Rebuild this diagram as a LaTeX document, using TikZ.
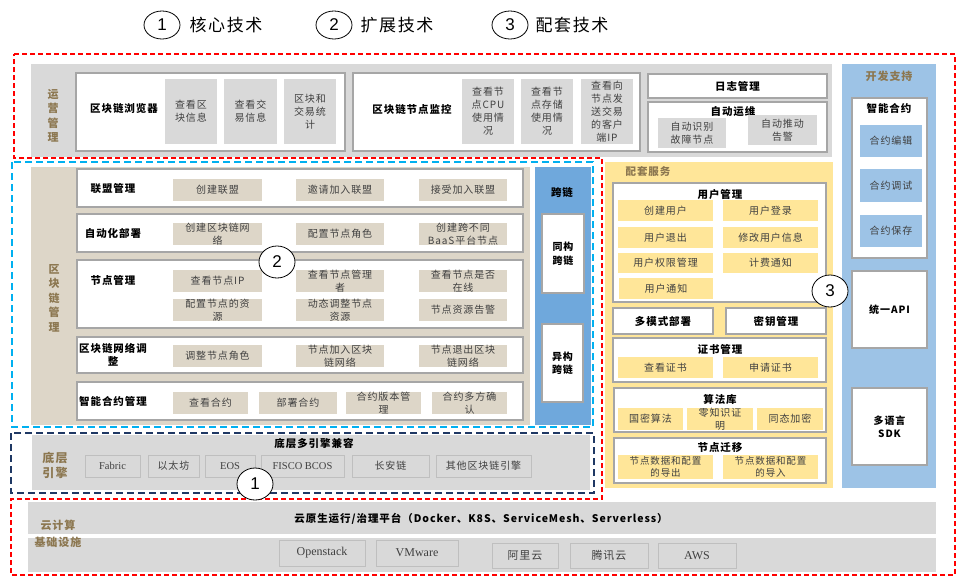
\documentclass[tikz,border=0pt]{standalone}
\usepackage{fontspec}
\setmainfont{Noto Sans CJK SC}[LetterSpace=9]
\newfontfamily\latf{Liberation Serif}
\newfontfamily\numf{Liberation Sans}
\usetikzlibrary{shapes.geometric}
\definecolor{gfill}{HTML}{D9D9D9}
\definecolor{bfill}{HTML}{DDD6C8}
\definecolor{yfill}{HTML}{FFE699}
\definecolor{lblue}{HTML}{9DC3E6}
\definecolor{mblue}{HTML}{6FA8DC}
\definecolor{bord}{HTML}{A6A6A6}
\definecolor{ebord}{HTML}{BFBFBF}
\definecolor{brownc}{HTML}{8C7750}
\definecolor{txtc}{HTML}{404040}
\definecolor{redd}{HTML}{FF0000}
\definecolor{cyand}{HTML}{00B0F0}
\definecolor{navyd}{HTML}{1F3864}
\newcommand\bx[7]{\node[#6, minimum width={(#4-#2)*1pt}, minimum height={(#5-#3)*1pt}] (#1) at ({(#2+#4)/2},{(#3+#5)/2}) {#7};}
\tikzset{
  base/.style={inner sep=0pt, outer sep=0pt, align=center},
  panel/.style={base, draw=none},
  wbox/.style={base, draw=bord, fill=white, line width=1.2pt},
  gsub/.style={base, fill=gfill, text=txtc, font=\fontsize{10}{13}\selectfont},
  bsub/.style={base, fill=bfill, text=txtc, font=\fontsize{10}{12.5}\selectfont},
  ysub/.style={base, fill=yfill, text=txtc, font=\fontsize{10}{12.5}\selectfont},
  lsub/.style={base, fill=lblue, text=txtc, font=\fontsize{10}{13}\selectfont},
  ebox/.style={base, draw=ebord, fill=gfill, line width=1pt, text=txtc},
  ttl/.style={inner sep=0pt, align=center, font=\bfseries\fontsize{10.5}{13}\selectfont},
  side/.style={inner sep=0pt, align=center, text=brownc, font=\bfseries\fontsize{11}{14.5}\selectfont},
  numc/.style={ellipse, draw=black, fill=white, line width=0.8pt, minimum width=36pt, minimum height=32pt, inner sep=0pt, font=\numf\fontsize{17}{17}\selectfont},
  leg/.style={inner sep=0pt, font=\fontsize{17}{18}\selectfont},
  dsh/.style={dash pattern=on 6pt off 4pt, line width=1.6pt}
}
\begin{document}
\begin{tikzpicture}[x=1pt,y=-1pt]
\useasboundingbox (0,0) rectangle (965,587);
% legend
\node[numc, minimum height=28pt] (c1) at (162,25) {1};
\node[leg] (l1) at (226,25) {核心技术};
\node[numc, minimum height=28pt] (c2) at (334,25) {2};
\node[leg] (l2) at (397,25) {扩展技术};
\node[numc, minimum height=28pt] (c3) at (510,25) {3};
\node[leg] (l3) at (572,25) {配套技术};

% ===== operations =====
\bx{ops}{31}{64}{832}{157}{panel, fill=gfill}{}
\node[side] (opsl) at (53,116) {运\\营\\管\\理};
\bx{brw}{76}{73}{345}{151}{wbox}{}
\node[ttl] (brwt) at (124,109) {区块链浏览器};
\bx{b1}{165}{79}{217}{144}{gsub}{查看区\\块信息}
\bx{b2}{224}{79}{277}{144}{gsub}{查看交\\易信息}
\bx{b3}{284}{79}{336}{144}{gsub}{区块和\\交易统\\计}
\bx{mon}{353}{73}{640}{151}{wbox}{}
\node[ttl] (mont) at (412,109) {区块链节点监控};
\bx{m1}{462}{79}{514}{144}{gsub}{查看节\\点CPU\\使用情\\况}
\bx{m2}{521}{79}{573}{144}{gsub}{查看节\\点存储\\使用情\\况}
\bx{m3}{581}{79}{633}{144}{gsub}{查看向\\节点发\\送交易\\的客户\\端IP}
\bx{logm}{648}{74}{827}{98}{wbox, font=\bfseries\fontsize{10.5}{13}\selectfont}{日志管理}
\bx{aut}{648}{102}{827}{152}{wbox}{}
\node[ttl] (autt) at (733,112) {自动运维};
\bx{a1}{658}{118}{726}{148}{gsub}{自动识别\\故障节点}
\bx{a2}{748}{115}{817}{145}{gsub}{自动推动\\告警}

% ===== dev support =====
\bx{dev}{842}{64}{936}{488}{panel, fill=lblue}{}
\node[side] (devt) at (889,76) {开发支持};
\bx{sc}{852}{98}{927}{258}{wbox}{}
\node[ttl] (sct) at (889,108) {智能合约};
\bx{sc1}{860}{125}{922}{157}{lsub}{合约编辑}
\bx{sc2}{860}{169}{922}{202}{lsub}{合约调试}
\bx{sc3}{860}{215}{922}{247}{lsub}{合约保存}
\bx{api}{852}{271}{927}{348}{wbox, font=\bfseries\fontsize{10}{13}\selectfont}{统一API}
\bx{sdk}{852}{388}{927}{465}{wbox, font=\bfseries\fontsize{10}{13}\selectfont}{多语言\\SDK}

% ===== blockchain management =====
\bx{bcm}{31}{167}{530}{425}{panel, fill=bfill}{}
\node[side] (bcml) at (54,298) {区\\块\\链\\管\\理};
\bx{r1}{77}{169}{523}{207}{wbox}{}
\node[ttl] (r1t) at (113,189) {联盟管理};
\bx{r1a}{173}{179}{262}{201}{bsub}{创建联盟}
\bx{r1b}{296}{179}{384}{201}{bsub}{邀请加入联盟}
\bx{r1c}{419}{179}{507}{201}{bsub}{接受加入联盟}
\bx{r2}{77}{214}{523}{252}{wbox}{}
\node[ttl] (r2t) at (113,233) {自动化部署};
\bx{r2a}{173}{223}{262}{245}{bsub}{创建区块链网\\络}
\bx{r2b}{296}{223}{384}{245}{bsub}{配置节点角色}
\bx{r2c}{419}{223}{507}{245}{bsub}{创建跨不同\\BaaS平台节点}
\bx{r3}{77}{260}{523}{328}{wbox}{}
\node[ttl] (r3t) at (113,280) {节点管理};
\bx{r3a}{173}{270}{262}{292}{bsub}{查看节点IP}
\bx{r3b}{296}{270}{384}{292}{bsub}{查看节点管理\\者}
\bx{r3c}{419}{270}{507}{292}{bsub}{查看节点是否\\在线}
\bx{r3d}{173}{299}{262}{321}{bsub}{配置节点的资\\源}
\bx{r3e}{296}{299}{384}{321}{bsub}{动态调整节点\\资源}
\bx{r3f}{419}{299}{507}{321}{bsub}{节点资源告警}
\bx{r4}{77}{337}{523}{373}{wbox}{}
\node[ttl] (r4t) at (113,355) {区块链网络调\\整};
\bx{r4a}{173}{345}{262}{367}{bsub}{调整节点角色}
\bx{r4b}{296}{345}{384}{367}{bsub}{节点加入区块\\链网络}
\bx{r4c}{419}{345}{507}{367}{bsub}{节点退出区块\\链网络}
\bx{r5}{77}{382}{523}{420}{wbox}{}
\node[ttl] (r5t) at (113,401) {智能合约管理};
\bx{r5a}{173}{392}{248}{414}{bsub}{查看合约}
\bx{r5b}{259}{392}{337}{414}{bsub}{部署合约}
\bx{r5c}{346}{392}{421}{414}{bsub}{合约版本管\\理}
\bx{r5d}{432}{392}{507}{414}{bsub}{合约多方确\\认}
% cross chain
\bx{kl}{535}{167}{591}{425}{panel, fill=mblue}{}
\node[ttl] (klt) at (562,193) {跨链};
\bx{kl1}{542}{214}{584}{293}{wbox, font=\bfseries\fontsize{10}{13.5}\selectfont}{同构\\跨链}
\bx{kl2}{542}{324}{583}{402}{wbox, font=\bfseries\fontsize{10}{13.5}\selectfont}{异构\\跨链}

% ===== supporting services =====
\bx{pt}{605}{162}{833}{488}{panel, fill=yfill}{}
\node[side, font=\bfseries\fontsize{10.5}{13}\selectfont] (ptt) at (648,172) {配套服务};
\bx{um}{613}{183}{826}{302}{wbox}{}
\node[ttl] (umt) at (720,194) {用户管理};
\bx{u1}{618}{200}{713}{221}{ysub}{创建用户}
\bx{u2}{723}{200}{818}{221}{ysub}{用户登录}
\bx{u3}{618}{227}{713}{248}{ysub}{用户退出}
\bx{u4}{723}{227}{818}{248}{ysub}{修改用户信息}
\bx{u5}{618}{253}{713}{273}{ysub}{用户权限管理}
\bx{u6}{723}{253}{818}{273}{ysub}{计费通知}
\bx{u7}{619}{278}{713}{299}{ysub}{用户通知}
\bx{dm}{613}{308}{713}{334}{wbox, font=\bfseries\fontsize{10.5}{13}\selectfont}{多模式部署}
\bx{km}{726}{308}{826}{334}{wbox, font=\bfseries\fontsize{10.5}{13}\selectfont}{密钥管理}
\bx{cm}{613}{338}{826}{382}{wbox}{}
\node[ttl] (cmt) at (720,349) {证书管理};
\bx{cm1}{618}{357}{713}{378}{ysub}{查看证书}
\bx{cm2}{723}{357}{818}{378}{ysub}{申请证书}
\bx{al}{614}{388}{826}{432}{wbox}{}
\node[ttl] (alt) at (720,399) {算法库};
\bx{al1}{618}{408}{683}{430}{ysub}{国密算法}
\bx{al2}{687}{408}{753}{430}{ysub}{零知识证\\明}
\bx{al3}{757}{408}{823}{430}{ysub}{同态加密}
\bx{nm}{614}{438}{826}{483}{wbox}{}
\node[ttl] (nmt) at (720,448) {节点迁移};
\bx{nm1}{618}{455}{713}{479}{ysub, font=\fontsize{9.5}{12}\selectfont}{节点数据和配置\\的导出}
\bx{nm2}{723}{455}{818}{479}{ysub, font=\fontsize{9.5}{12}\selectfont}{节点数据和配置\\的导入}

% ===== base engines =====
\bx{eng}{32}{435}{590}{490}{panel, fill=gfill}{}
\node[side, font=\bfseries\fontsize{12}{15}\selectfont] (engl) at (55,465) {底层\\引擎};
\node[ttl] (engt) at (314,443) {底层多引擎兼容};
\bx{e1}{85}{455}{140}{477}{ebox, font=\latf\fontsize{10.5}{12}\selectfont}{Fabric}
\bx{e2}{148}{455}{199}{477}{ebox, font=\fontsize{10}{12}\selectfont}{以太坊}
\bx{e3}{205}{455}{255}{477}{ebox, font=\latf\fontsize{10.5}{12}\selectfont}{EOS}
\bx{e4}{261}{455}{344}{477}{ebox, font=\latf\fontsize{10.5}{12}\selectfont}{FISCO BCOS}
\bx{e5}{352}{455}{429}{477}{ebox, font=\fontsize{10}{12}\selectfont}{长安链}
\bx{e6}{436}{455}{531}{477}{ebox, font=\fontsize{10}{12}\selectfont}{其他区块链引擎}

% ===== cloud =====
\bx{cl1}{28}{502}{936}{534}{panel, fill=gfill}{}
\node[ttl, font=\bfseries\fontsize{10.5}{13}\selectfont] (clt) at (481,519) {云原生运行/治理平台（Docker、K8S、ServiceMesh、Serverless）};
\bx{cl2}{28}{538}{936}{572}{panel, fill=gfill}{}
\node[side, font=\bfseries\fontsize{11}{13}\selectfont] (cll1) at (58,525) {云计算};
\node[side, font=\bfseries\fontsize{11}{13}\selectfont] (cll2) at (58,542) {基础设施};
\bx{o1}{279}{540}{365}{566}{ebox, font=\latf\fontsize{12}{13}\selectfont}{Openstack}
\bx{o2}{376}{540}{458}{566}{ebox, font=\latf\fontsize{12}{13}\selectfont}{VMware}
\bx{o3}{492}{543}{558}{568}{ebox, font=\fontsize{11}{13}\selectfont}{阿里云}
\bx{o4}{570}{543}{648}{568}{ebox, font=\fontsize{11}{13}\selectfont}{腾讯云}
\bx{o5}{658}{543}{736}{568}{ebox, font=\latf\fontsize{12}{13}\selectfont}{AWS}

% ===== dashed outlines =====
\draw[dsh, draw=redd, line width=1.3pt, dash pattern=on 5pt off 3pt] (14,54) -- (955,54) -- (955,575) -- (11,575) -- (11,499) -- (602,499) -- (602,158) -- (14,158) -- cycle;
\draw[dsh, draw=cyand, line width=1.8pt, dash pattern=on 7pt off 4pt] (12,162) rectangle (593,427);
\draw[dsh, draw=navyd, line width=1.8pt, dash pattern=on 7pt off 4pt] (11,433) rectangle (594,493);

% ===== numbered markers =====
\node[numc] (n2) at (277,262) {2};
\node[numc] (n3) at (830,291) {3};
\node[numc] (n1) at (255,484) {1};
\end{tikzpicture}
\end{document}
